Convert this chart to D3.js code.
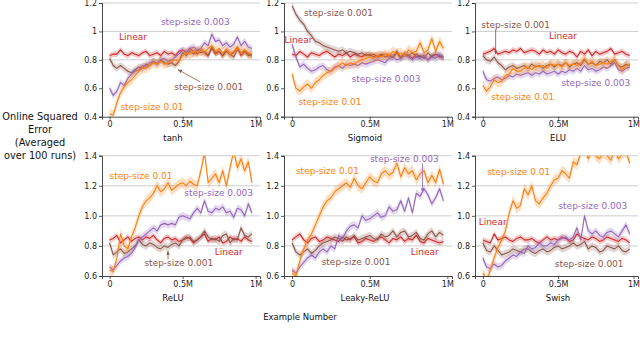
<!DOCTYPE html>
<html>
<head>
<meta charset="utf-8">
<script src="https://cdn.jsdelivr.net/npm/d3@7"></script>
<style>
  body { margin: 0; background: #fff; }
  svg { display: block; font-family: "DejaVu Sans", sans-serif; }
</style>
</head>
<body>
<div id="chart"></div>
<script>
/**
 * DATA
 * x in millions of examples, y = online squared error
 * */
const examples = [0, 0.025, 0.05, 0.075, 0.1, 0.125, 0.15, 0.175, 0.2, 0.225,
  0.25, 0.275, 0.3, 0.325, 0.35, 0.375, 0.4, 0.425, 0.45, 0.475,
  0.5, 0.525, 0.55, 0.575, 0.6, 0.625, 0.65, 0.675, 0.7, 0.725,
  0.75, 0.775, 0.8, 0.825, 0.85, 0.875, 0.9, 0.925, 0.95, 0.975];

const seriesNames = ["Linear", "step-size 0.001", "step-size 0.003", "step-size 0.01"];
const panelNames = ["tanh", "Sigmoid", "ELU", "ReLU", "Leaky-ReLU", "Swish"];
const xTickValues = [0, 0.5, 1];
const xTickLabels = ["0", "0.5M", "1M"];
const topTicks = [0.4, 0.6, 0.8, 1.0, 1.2];
const topTickLabels = ["0.4", "0.6", "0.8", "1", "1.2"];
const bottomTicks = [0.6, 0.8, 1.0, 1.2, 1.4];
const bottomTickLabels = ["0.6", "0.8", "1.0", "1.2", "1.4"];
// horizontal reference lines
const topGrid = [0.8, 1.0, 1.2];
const bottomGrid = [0.8, 1.0, 1.2, 1.4];
// half width of the shaded band, per series
const bandHalf = [0.02, 0.025, 0.025, 0.035];

const tanh_linear = [0.83,0.84,0.84,0.87,0.84,0.83,0.85,0.84,0.83,0.85,0.86,0.83,0.84,0.85,0.83,0.86,0.84,0.85,0.83,0.86,0.87,0.85,0.88,0.86,0.84,0.87,0.85,0.83,0.88,0.84,0.86,0.83,0.87,0.84,0.85,0.89,0.83,0.86,0.84,0.83];
const tanh_001 = [0.81,0.76,0.74,0.76,0.74,0.72,0.71,0.73,0.75,0.74,0.77,0.76,0.79,0.77,0.8,0.78,0.77,0.78,0.76,0.79,0.85,0.83,0.86,0.84,0.87,0.85,0.86,0.83,0.89,0.85,0.86,0.83,0.86,0.84,0.82,0.87,0.85,0.86,0.83,0.84];
const tanh_003 = [0.6,0.55,0.58,0.64,0.62,0.67,0.7,0.72,0.73,0.76,0.75,0.78,0.79,0.78,0.8,0.81,0.79,0.8,0.82,0.84,0.87,0.86,0.88,0.89,0.87,0.88,0.92,0.9,0.98,0.93,0.94,0.9,0.92,0.89,0.91,0.96,0.9,0.93,0.89,0.88];
const tanh_01 = [0.42,0.41,0.5,0.57,0.61,0.64,0.66,0.69,0.72,0.74,0.74,0.76,0.78,0.77,0.79,0.77,0.78,0.79,0.8,0.79,0.83,0.85,0.84,0.86,0.85,0.87,0.85,0.88,0.9,0.86,0.88,0.85,0.87,0.84,0.86,0.89,0.85,0.87,0.85,0.84];

const sigmoid_linear = [0.84,0.83,0.86,0.84,0.82,0.85,0.84,0.83,0.85,0.86,0.84,0.82,0.84,0.83,0.85,0.82,0.84,0.83,0.82,0.84,0.83,0.84,0.82,0.83,0.84,0.83,0.82,0.85,0.82,0.84,0.83,0.81,0.84,0.82,0.83,0.8,0.83,0.84,0.82,0.82];
const sigmoid_001 = [1.18,1.12,1.08,1.05,1.0,0.97,0.93,0.92,0.9,0.89,0.88,0.87,0.86,0.87,0.85,0.86,0.85,0.84,0.85,0.83,0.84,0.82,0.83,0.84,0.82,0.83,0.82,0.86,0.81,0.84,0.83,0.85,0.82,0.83,0.81,0.85,0.82,0.84,0.83,0.81];
const sigmoid_003 = [0.91,0.82,0.75,0.77,0.74,0.72,0.73,0.75,0.76,0.73,0.72,0.75,0.76,0.74,0.77,0.76,0.77,0.76,0.78,0.77,0.78,0.79,0.8,0.79,0.78,0.81,0.82,0.8,0.81,0.83,0.82,0.8,0.82,0.81,0.83,0.8,0.82,0.81,0.84,0.82];
const sigmoid_01 = [0.7,0.6,0.58,0.61,0.63,0.6,0.64,0.66,0.69,0.71,0.72,0.74,0.76,0.78,0.76,0.78,0.77,0.79,0.8,0.81,0.82,0.81,0.83,0.82,0.84,0.83,0.86,0.84,0.85,0.83,0.87,0.85,0.86,0.92,0.85,0.87,0.95,0.86,0.93,0.88];

const elu_linear = [0.84,0.85,0.86,0.88,0.84,0.85,0.86,0.85,0.87,0.86,0.88,0.85,0.86,0.87,0.86,0.84,0.87,0.85,0.86,0.84,0.87,0.85,0.84,0.86,0.85,0.82,0.86,0.84,0.87,0.83,0.86,0.84,0.85,0.86,0.88,0.84,0.85,0.86,0.84,0.83];
const elu_001 = [0.83,0.8,0.79,0.82,0.78,0.76,0.73,0.75,0.76,0.74,0.75,0.76,0.74,0.77,0.75,0.76,0.74,0.76,0.77,0.75,0.77,0.76,0.78,0.75,0.77,0.78,0.76,0.8,0.77,0.78,0.76,0.79,0.78,0.8,0.77,0.8,0.76,0.75,0.77,0.76];
const elu_003 = [0.72,0.66,0.65,0.67,0.68,0.66,0.67,0.69,0.68,0.7,0.69,0.7,0.71,0.69,0.71,0.7,0.72,0.7,0.71,0.72,0.7,0.72,0.71,0.73,0.72,0.74,0.72,0.76,0.73,0.74,0.72,0.73,0.75,0.74,0.76,0.78,0.73,0.72,0.74,0.75];
const elu_01 = [0.62,0.58,0.61,0.66,0.64,0.65,0.69,0.7,0.74,0.72,0.72,0.74,0.75,0.73,0.76,0.75,0.76,0.74,0.77,0.76,0.77,0.75,0.78,0.76,0.77,0.76,0.78,0.81,0.77,0.79,0.76,0.77,0.78,0.77,0.79,0.8,0.76,0.73,0.76,0.77];

const relu_linear = [0.84,0.85,0.87,0.82,0.84,0.86,0.83,0.85,0.86,0.84,0.86,0.85,0.87,0.84,0.82,0.85,0.86,0.84,0.85,0.83,0.84,0.86,0.85,0.82,0.84,0.86,0.88,0.83,0.85,0.84,0.86,0.82,0.83,0.86,0.84,0.85,0.83,0.86,0.84,0.83];
const relu_001 = [0.82,0.74,0.76,0.78,0.75,0.76,0.78,0.8,0.84,0.81,0.8,0.82,0.81,0.79,0.78,0.8,0.79,0.81,0.82,0.8,0.84,0.85,0.86,0.83,0.84,0.86,0.9,0.86,0.84,0.85,0.83,0.87,0.88,0.82,0.85,0.84,0.92,0.87,0.86,0.88];
const relu_003 = [0.66,0.64,0.67,0.7,0.72,0.73,0.75,0.79,0.84,0.86,0.88,0.9,0.92,0.9,0.94,0.95,0.94,0.95,0.94,0.99,1.0,0.99,0.98,1.02,1.05,1.02,1.1,1.03,1.02,1.05,1.04,1.06,1.02,1.03,0.99,1.05,1.04,1.0,1.08,1.02];
const relu_01 = [0.64,0.63,0.72,0.88,0.8,0.78,0.86,0.92,1.0,1.06,1.1,1.12,1.15,1.2,1.16,1.18,1.22,1.17,1.19,1.21,1.22,1.2,1.23,1.21,1.2,1.3,1.42,1.22,1.25,1.28,1.22,1.3,1.2,1.32,1.43,1.32,1.38,1.3,1.36,1.22];

const leaky_linear = [0.84,0.86,0.88,0.84,0.82,0.85,0.86,0.83,0.84,0.86,0.85,0.84,0.83,0.86,0.84,0.85,0.86,0.82,0.83,0.85,0.84,0.83,0.85,0.86,0.84,0.82,0.85,0.84,0.86,0.83,0.85,0.84,0.87,0.83,0.82,0.85,0.84,0.83,0.82,0.83];
const leaky_001 = [0.82,0.76,0.74,0.76,0.78,0.75,0.77,0.8,0.82,0.83,0.84,0.86,0.85,0.83,0.86,0.84,0.87,0.84,0.85,0.86,0.87,0.85,0.84,0.88,0.86,0.87,0.9,0.86,0.89,0.9,0.86,0.87,0.89,0.85,0.84,0.88,0.9,0.86,0.89,0.87];
const leaky_003 = [0.64,0.62,0.66,0.69,0.72,0.74,0.72,0.76,0.78,0.76,0.8,0.78,0.87,0.85,0.9,0.93,0.94,0.92,1.0,0.97,0.98,1.0,1.02,0.99,1.0,1.06,1.03,1.04,1.1,1.03,1.12,1.02,1.15,1.13,1.18,1.14,1.08,1.12,1.18,1.1];
const leaky_01 = [0.62,0.6,0.7,0.78,0.84,0.88,0.94,1.0,1.06,1.1,1.12,1.16,1.18,1.2,1.22,1.19,1.25,1.2,1.18,1.22,1.26,1.23,1.22,1.28,1.3,1.27,1.29,1.35,1.26,1.32,1.28,1.3,1.24,1.28,1.3,1.22,1.27,1.22,1.31,1.21];

const swish_linear = [0.84,0.83,0.82,0.88,0.84,0.85,0.86,0.84,0.83,0.85,0.86,0.84,0.84,0.85,0.83,0.82,0.84,0.86,0.84,0.85,0.84,0.86,0.85,0.83,0.84,0.88,0.86,0.85,0.84,0.86,0.85,0.83,0.84,0.86,0.85,0.84,0.83,0.85,0.84,0.82];
const swish_001 = [0.82,0.77,0.76,0.8,0.77,0.74,0.75,0.76,0.78,0.77,0.76,0.78,0.78,0.76,0.75,0.77,0.78,0.76,0.77,0.79,0.8,0.78,0.79,0.8,0.82,0.8,0.81,0.83,0.78,0.8,0.79,0.76,0.77,0.8,0.79,0.78,0.8,0.77,0.76,0.78];
const swish_003 = [0.72,0.66,0.65,0.68,0.66,0.67,0.7,0.72,0.74,0.73,0.76,0.75,0.8,0.78,0.79,0.82,0.8,0.8,0.82,0.81,0.84,0.85,0.86,0.84,0.86,0.92,0.84,1.0,0.9,0.88,0.9,0.87,0.86,0.89,0.9,0.88,0.86,0.9,0.94,0.88];
const swish_01 = [0.62,0.57,0.64,0.72,0.79,0.84,0.9,1.02,1.1,1.05,1.07,1.18,1.14,1.2,1.1,1.08,1.12,1.15,1.2,1.24,1.25,1.3,1.28,1.25,1.36,1.34,1.42,1.46,1.38,1.44,1.4,1.38,1.42,1.4,1.37,1.44,1.38,1.41,1.43,1.35];

const panelSeries = [
  [tanh_linear, tanh_001, tanh_003, tanh_01],
  [sigmoid_linear, sigmoid_001, sigmoid_003, sigmoid_01],
  [elu_linear, elu_001, elu_003, elu_01],
  [relu_linear, relu_001, relu_003, relu_01],
  [leaky_linear, leaky_001, leaky_003, leaky_01],
  [swish_linear, swish_001, swish_003, swish_01]
];

/**
 * LAYOUT AND STYLE
 * */
const width = 640, height = 340;
const colors = ["#d62728", "#8c564b", "#9467bd", "#ff7f0e"];
const cols = [
  { left: 102, right: 260, titleX: 173 },
  { left: 284, right: 452, titleX: 365 },
  { left: 475, right: 638, titleX: 558 }
];
const rows = [
  { bottom: 116.7, top: 3, domain: [0.4, 1.2], ticks: topTicks, labels: topTickLabels, grid: topGrid, titleY: 141 },
  { bottom: 276, top: 155.7, domain: [0.6, 1.4], ticks: bottomTicks, labels: bottomTickLabels, grid: bottomGrid, titleY: 301 }
];

// annotation text centres, in data coords, per panel, same order as seriesNames
const labelAt = [
  [[0.16, 0.961], [0.679, 0.609], [0.587, 1.066], [0.29, 0.468]],
  [[0.042, 0.94], [0.299, 1.13], [0.605, 0.665], [0.244, 0.503]],
  [[0.532, 0.968], [0.218, 1.045], [0.75, 0.637], [0.265, 0.539]],
  [[0.816, 0.76], [0.474, 0.686], [0.747, 1.152], [0.215, 1.265]],
  [[0.855, 0.76], [0.412, 0.693], [0.723, 1.378], [0.228, 1.298]],
  [[0.065, 0.959], [0.706, 0.68], [0.73, 1.065], [0.238, 1.291]]
];
// arrows: panel, series, from, to (data coords)
const arrows = [
  { panel: 0, s: 1, from: [0.62, 0.645], to: [0.47, 0.73] },
  { panel: 2, s: 1, from: [0.085, 1.015], to: [0.085, 0.84] },
  { panel: 3, s: 1, from: [0.4, 0.71], to: [0.4, 0.765] },
  { panel: 4, s: 2, from: [0.84, 1.35], to: [0.84, 1.16] }
];

const svg = d3.select("#chart").append("svg")
  .attr("width", width)
  .attr("height", height);

const defs = svg.append("defs");
colors.forEach((c, i) => {
  defs.append("marker")
    .attr("id", "head" + i)
    .attr("viewBox", "0 0 10 10")
    .attr("refX", 9).attr("refY", 5)
    .attr("markerWidth", 5).attr("markerHeight", 5)
    .attr("orient", "auto")
    .append("path")
    .attr("d", "M0,1 L10,5 L0,9 z")
    .attr("fill", c);
});

panelNames.forEach((name, p) => {
  const col = cols[p % 3], row = rows[Math.floor(p / 3)];

  const x = d3.scaleLinear().domain([-0.052, 1.03]).range([col.left, col.right]);
  const y = d3.scaleLinear().domain(row.domain).range([row.bottom, row.top]);

  const g = svg.append("g");

  defs.append("clipPath").attr("id", "clip" + p)
    .append("rect")
    .attr("x", col.left).attr("y", row.top)
    .attr("width", col.right - col.left).attr("height", row.bottom - row.top);

  // grid
  g.append("g").selectAll("line")
    .data(row.grid)
    .join("line")
    .attr("x1", col.left).attr("x2", col.right)
    .attr("y1", d => y(d)).attr("y2", d => y(d))
    .attr("stroke", "#c8c8c8")
    .attr("stroke-width", 0.9);

  const plot = g.append("g").attr("clip-path", `url(#clip${p})`);

  panelSeries[p].forEach((vals, s) => {
    const pts = examples.map((e, i) => ({ x: e, y: vals[i] }));
    const area = d3.area()
      .x(d => x(d.x))
      .y0(d => y(d.y - bandHalf[s]))
      .y1(d => y(d.y + bandHalf[s]));
    const line = d3.line().x(d => x(d.x)).y(d => y(d.y));
    plot.append("path").datum(pts)
      .attr("d", area)
      .attr("fill", colors[s])
      .attr("fill-opacity", 0.25);
    plot.append("path").datum(pts)
      .attr("d", line)
      .attr("fill", "none")
      .attr("stroke", colors[s])
      .attr("stroke-width", 1.1)
      .attr("stroke-linejoin", "round");
  });

  // axes
  const yAxis = d3.axisLeft(y)
    .tickValues(row.ticks)
    .tickFormat((d, i) => row.labels[i])
    .tickSizeOuter(0).tickSize(3).tickPadding(2);
  const xAxis = d3.axisBottom(x)
    .tickValues(xTickValues)
    .tickFormat((d, i) => xTickLabels[i])
    .tickSizeOuter(0).tickSize(3).tickPadding(2);

  const ya = g.append("g").attr("transform", `translate(${col.left},0)`).call(yAxis);
  const xa = g.append("g").attr("transform", `translate(0,${row.bottom})`).call(xAxis);
  [ya, xa].forEach(a => {
    a.selectAll("text").attr("font-size", 8).attr("font-family", "DejaVu Sans").attr("fill", "#222");
    a.selectAll("line").attr("stroke", "#333").attr("stroke-width", 0.8);
    a.select(".domain").attr("stroke", "#333").attr("stroke-width", 0.9);
  });

  // annotations
  g.append("g").selectAll("text")
    .data(seriesNames)
    .join("text")
    .attr("x", (d, s) => x(labelAt[p][s][0]))
    .attr("y", (d, s) => y(labelAt[p][s][1]))
    .attr("dy", "0.35em")
    .attr("text-anchor", "middle")
    .attr("font-size", 9)
    .attr("fill", (d, s) => colors[s])
    .text(d => d);

  g.append("g").selectAll("line")
    .data(arrows.filter(a => a.panel === p))
    .join("line")
    .attr("x1", d => x(d.from[0])).attr("y1", d => y(d.from[1]))
    .attr("x2", d => x(d.to[0])).attr("y2", d => y(d.to[1]))
    .attr("stroke", d => colors[d.s])
    .attr("stroke-width", 0.8)
    .attr("marker-end", d => `url(#head${d.s})`);

  // panel title
  g.append("text")
    .attr("x", col.titleX)
    .attr("y", row.titleY)
    .attr("text-anchor", "middle")
    .attr("font-size", 8.5)
    .attr("fill", "#111")
    .text(name);
});

// shared labels
svg.append("text")
  .attr("x", 300).attr("y", 320)
  .attr("text-anchor", "middle")
  .attr("font-size", 8.5)
  .attr("fill", "#111")
  .text("Example Number");

const yLabel = ["Online Squared", "Error", "(Averaged", "over 100 runs)"];
svg.append("text")
  .attr("text-anchor", "middle")
  .attr("font-size", 9.8)
  .attr("fill", "#111")
  .selectAll("tspan")
  .data(yLabel)
  .join("tspan")
  .attr("x", 40)
  .attr("y", (d, i) => 119.5 + i * 13.3)
  .text(d => d);
</script>
</body>
</html>
